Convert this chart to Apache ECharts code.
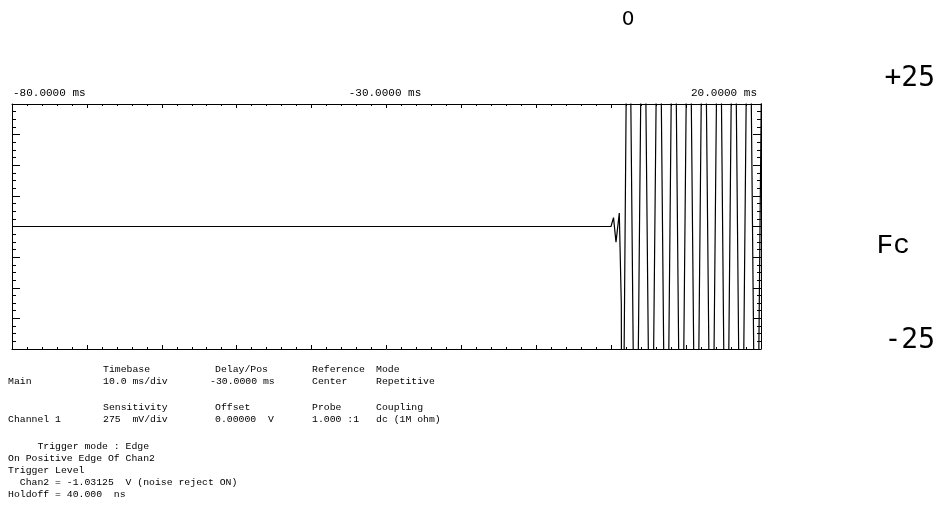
<!DOCTYPE html>
<html>
<head>
<meta charset="utf-8">
<script src="https://cdn.jsdelivr.net/npm/echarts@6/dist/echarts.min.js"></script>
<style>
html,body{margin:0;padding:0;background:#fff;}
#c{width:942px;height:509px;}
</style>
</head>
<body>
<div id="c"></div>
<script>
// Time axis (ms) and tick labels
const xMin = -80, xMax = 20, xStep = 10;
const tickLabels = { '-80': '-80.0000 ms', '-30': '-30.0000 ms', '20': '20.0000 ms' };
// Vertical axis (mV), 275 mV/div, 8 divisions
const yMin = -1100, yMax = 1100, yStep = 275;

// Trace vertices: time (ms) and voltage (mV)
const traceTimes = [-80, -0.03, 0.31, 0.64, 1.08, 1.35, 1.44, 2.28, 3.28, 4.28, 5.31, 6.35, 7.35, 8.35, 9.35, 10.35, 11.36, 12.36, 13.39, 14.39, 15.36, 16.36, 17.36, 18.36, 19.37, 20.37];
const traceValues = [0, 0, 80, -140, 120, -700, -3500, 3500, -3500, 3500, -3500, 3500, -3500, 3500, -3500, 3500, -3500, 3500, -3500, 3500, -3500, 3500, -3500, 3500, -3500, 3500];

// Setup text block: [column index, row y, text]
const infoX = [8, 103, 210, 215, 312, 376];
const infoItems = [
  [1, 369, 'Timebase'], [3, 369, 'Delay/Pos'], [4, 369, 'Reference'], [5, 369, 'Mode'],
  [0, 381, 'Main'], [1, 381, '10.0 ms/div'], [2, 381, '-30.0000 ms'], [4, 381, 'Center'], [5, 381, 'Repetitive'],
  [1, 407.5, 'Sensitivity'], [3, 407.5, 'Offset'], [4, 407.5, 'Probe'], [5, 407.5, 'Coupling'],
  [0, 419.5, 'Channel 1'], [1, 419.5, '275  mV/div'], [3, 419.5, '0.00000  V'], [4, 419.5, '1.000 :1'], [5, 419.5, 'dc (1M ohm)']
];
const triggerLines = [
  '     Trigger mode : Edge',
  'On Positive Edge Of Chan2',
  'Trigger Level',
  '  Chan2 = -1.03125  V (noise reject ON)',
  'Holdoff = 40.000  ns'
];
const triggerY = [446, 458, 470, 482, 494];
const sideLabels = ['0', '+25', 'Fc', '-25'];

const chart = echarts.init(document.getElementById('c'), null, { renderer: 'canvas' });
const data = traceTimes.map((t, i) => [t, traceValues[i]]);

const mono = '"Liberation Mono", "Courier New", monospace';
const infoFont = '9.8px ' + mono;
const tickCommon = { show: true, inside: true, length: 4, lineStyle: { color: '#000', width: 1 } };
const minorCommon = { show: true, length: 2, lineStyle: { color: '#000', width: 1 } };

function txt(x, y, s, font, align) {
  return { type: 'text', x: x, y: y, silent: true,
    style: { text: s, font: font, fill: '#000', align: align || 'left', verticalAlign: 'middle' } };
}
const graphics = [];
infoItems.forEach(it => graphics.push(txt(infoX[it[0]], it[1], it[2], infoFont)));
triggerLines.forEach((s, i) => graphics.push(txt(8, triggerY[i], s, infoFont)));
graphics.push(txt(628, 20, sideLabels[0], '20px "DejaVu Sans", sans-serif', 'center'));
graphics.push(txt(935, 79, sideLabels[1], '28px "DejaVu Sans Mono", monospace', 'right'));
graphics.push(txt(910, 246, sideLabels[2], '28px ' + mono, 'right'));
graphics.push(txt(935, 341, sideLabels[3], '28px "DejaVu Sans Mono", monospace', 'right'));

chart.setOption({
  animation: false,
  backgroundColor: '#fff',
  grid: { left: 12, right: 181, top: 104, bottom: 160, containLabel: false },
  xAxis: [
    { type: 'value', position: 'bottom', min: xMin, max: xMax, interval: xStep,
      axisLine: { show: true, onZero: false, lineStyle: { color: '#000', width: 1 } },
      axisTick: tickCommon, minorTick: Object.assign({ splitNumber: 5 }, minorCommon),
      axisLabel: { show: false }, splitLine: { show: false } },
    { type: 'value', position: 'top', min: xMin, max: xMax, interval: xStep,
      axisLine: { show: true, onZero: false, lineStyle: { color: '#000', width: 1 } },
      axisTick: tickCommon, minorTick: Object.assign({ splitNumber: 5 }, minorCommon),
      axisLabel: { show: true, margin: 5, fontFamily: mono, fontSize: 11, color: '#000',
        padding: [0, 4, 0, 1],
        showMinLabel: true, showMaxLabel: true, alignMinLabel: 'left', alignMaxLabel: 'right',
        formatter: v => tickLabels[String(Math.round(v))] || '' },
      splitLine: { show: false } }
  ],
  yAxis: [
    { type: 'value', position: 'left', min: yMin, max: yMax, interval: yStep,
      axisLine: { show: true, onZero: false, lineStyle: { color: '#000', width: 1 } },
      axisTick: Object.assign({}, tickCommon, { length: 8 }), minorTick: Object.assign({ splitNumber: 4 }, minorCommon, { length: 4 }),
      axisLabel: { show: false }, splitLine: { show: false } },
    { type: 'value', position: 'right', min: yMin, max: yMax, interval: yStep,
      axisLine: { show: true, onZero: false, lineStyle: { color: '#000', width: 1 } },
      axisTick: Object.assign({}, tickCommon, { length: 8 }), minorTick: Object.assign({ splitNumber: 4 }, minorCommon, { length: 4 }),
      axisLabel: { show: false }, splitLine: { show: false } }
  ],
  series: [{
    type: 'line', xAxisIndex: 0, yAxisIndex: 0, data: data, showSymbol: false, symbol: 'none',
    clip: true, lineStyle: { color: '#000', width: 1.2 }
  }],
  graphic: graphics
});
</script>
</body>
</html>
